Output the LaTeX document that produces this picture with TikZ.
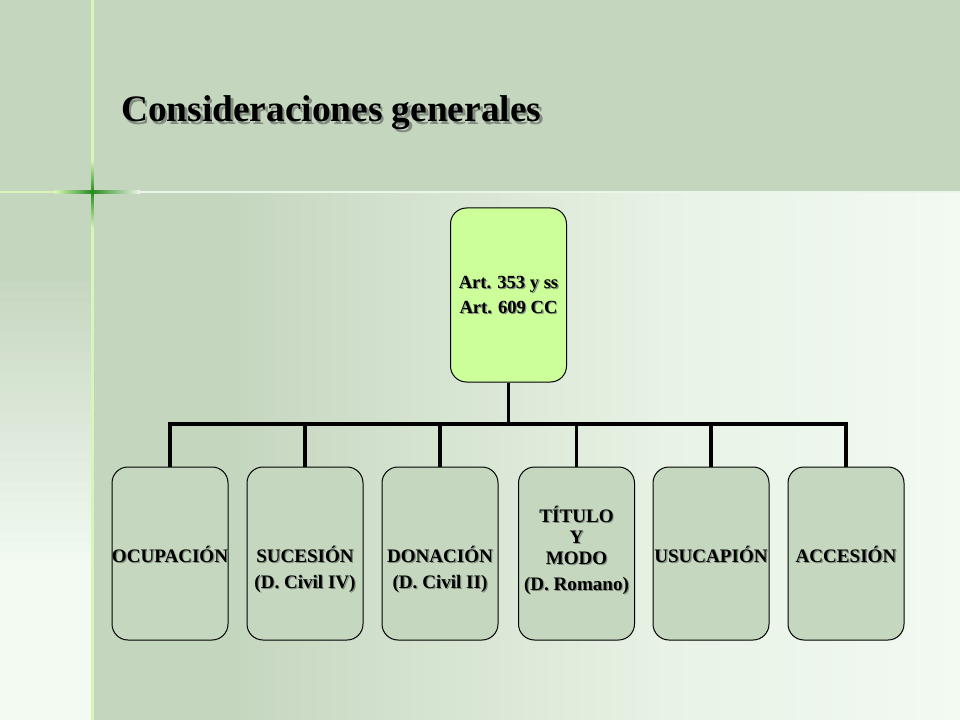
\documentclass[tikz,border=0pt]{standalone}
\usepackage{fontspec}
\setmainfont{Liberation Serif}
\usetikzlibrary{calc}
\definecolor{bgA}{RGB}{197,214,191}
\definecolor{bgB}{RGB}{232,242,229}
\definecolor{bgC}{RGB}{242,250,242}
\definecolor{topfill}{RGB}{204,255,153}
\definecolor{childfill}{RGB}{197,215,191}
\definecolor{shadowc}{RGB}{130,140,128}
\definecolor{starG}{RGB}{40,140,30}
\definecolor{lineL}{RGB}{215,245,185}
\definecolor{lineW}{RGB}{236,246,232}
\pgfdeclarehorizontalshading{mainbg}{100bp}{color(0bp)=(bgA); color(25bp)=(bgA); color(33bp)=(bgA); color(58bp)=(bgB); color(75bp)=(bgC); color(100bp)=(bgC)}
\tikzset{
  topbox/.style={draw=black, line width=0.75pt, fill=topfill, rounded corners=12pt,
    minimum width=87pt, minimum height=130.5pt, inner sep=0pt},
  childbox/.style={draw=black, line width=0.75pt, fill=childfill, rounded corners=12pt,
    minimum width=87pt, minimum height=129.75pt, inner sep=0pt},
  conn/.style={draw=black, line width=2.3pt},
  lab/.style={font=\fontsize{14.3}{17}\selectfont\bfseries, inner sep=0pt},
  toplab/.style={font=\fontsize{13.9}{17}\selectfont\bfseries, inner sep=0pt},
  titlelab/.style={font=\fontsize{28}{32}\selectfont\bfseries, inner sep=0pt, anchor=base west},
}
\newcommand\dlab[6]{%
  \node[anchor=base, #5, text=shadowc] at (#2+#6,#3+#6) {#4};
  \node[anchor=base, #5] (#1) at (#2,#3) {#4};}
\begin{document}
\begin{tikzpicture}[x=0.75pt,y=-0.75pt]
\useasboundingbox (0,0) rectangle (960,720);
% background
\fill[bgA] (0,0) rectangle (960,192);
\foreach \i in {0,...,52} {
  \pgfmathsetmacro\yy{192+10*\i}
  \pgfmathtruncatemacro\pp{max(0,min(100,(\yy-270)/290*100))}
  \fill[bgC!\pp!bgA] (0,\yy) rectangle (92,\yy+10.6);
}
\shade[shading=mainbg] (92,192) rectangle (960,720);
% lines and star
\fill[lineW] (0,191) rectangle (960,193.5);
\fill[lineL] (0,191) rectangle (60,193.5);
\fill[lineL] (91,0) rectangle (93.5,720);
\shade[left color=lineL, right color=starG] (55,191) rectangle (92,193.5);
\shade[left color=starG, right color=lineW] (92,191) rectangle (140,193.5);
\shade[top color=lineL, bottom color=starG] (91,160) rectangle (93.5,192);
\shade[top color=starG, bottom color=lineL] (91,192) rectangle (93.5,228);
% title
\dlab{title}{121}{122}{Consideraciones generales}{titlelab}{2.5}
% boxes
\node[topbox] (top) at (508.5,295) {};
\node[childbox] (c1) at (170,553.5) {};
\node[childbox] (c2) at (305,553.5) {};
\node[childbox] (c3) at (440,553.5) {};
\node[childbox] (c4) at (576.5,553.5) {};
\node[childbox] (c5) at (711,553.5) {};
\node[childbox] (c6) at (846,553.5) {};
% connectors
\coordinate (bus) at (508,424);
\draw[conn] (top.south) -- (top.south |- bus);
\draw[conn] (c1.north) -- (c1.north |- bus) -- (c6.north |- bus) -- (c6.north);
\foreach \i in {2,3,4,5} { \draw[conn] (c\i.north) -- (c\i.north |- bus); }
% labels
\dlab{t1}{508.5}{288}{Art. 353 y ss}{toplab}{1.2}
\dlab{t2}{508.5}{313}{Art. 609 CC}{toplab}{1.2}
\dlab{l1}{170}{562}{OCUPACIÓN}{lab}{1.2}
\dlab{l2a}{305}{562}{SUCESIÓN}{lab}{1.2}
\dlab{l2b}{305}{588}{(D. Civil IV)}{lab}{1.2}
\dlab{l3a}{440}{562}{DONACIÓN}{lab}{1.2}
\dlab{l3b}{440}{588}{(D. Civil II)}{lab}{1.2}
\dlab{l4a}{576.5}{522}{TÍTULO}{lab}{1.2}
\dlab{l4b}{576.5}{543}{Y}{lab}{1.2}
\dlab{l4c}{576.5}{564}{MODO}{lab}{1.2}
\dlab{l4d}{576.5}{590}{(D. Romano)}{lab}{1.2}
\dlab{l5}{711}{562}{USUCAPIÓN}{lab}{1.2}
\dlab{l6}{846}{562}{ACCESIÓN}{lab}{1.2}
\end{tikzpicture}
\end{document}
